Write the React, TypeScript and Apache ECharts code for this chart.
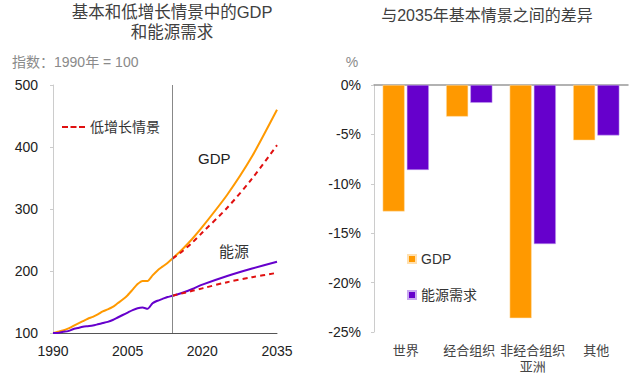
import React, { useEffect, useRef } from "react";
import * as echarts from "echarts";

const FONT = 'Arial, "Liberation Sans", "Noto Sans CJK SC", sans-serif';

// Left chart: index, 1990 = 100
const gdpYears = [1990, 1991, 1992, 1993, 1994, 1995, 1996, 1997, 1998, 1999, 2000, 2001, 2002, 2003, 2004, 2005, 2006, 2007, 2008, 2009, 2010, 2011, 2012, 2013, 2014, 2016, 2018, 2020, 2025, 2030, 2035];
const gdpBase = [100, 102, 104, 107, 111, 115, 119, 123, 126, 130, 135, 138, 142, 148, 154, 161, 170, 179, 184, 184, 193, 201, 207, 213, 220, 235, 252, 271, 323, 385, 460];
const energyBase = [100, 100, 102, 103, 106, 108, 110, 111, 112, 114, 116, 118, 121, 125, 129, 133, 137, 140, 141, 139, 148, 152, 155, 158, 160, 165, 171, 178, 192, 204, 215];
const lowYears = [2014, 2016, 2018, 2020, 2025, 2030, 2035];
const gdpLow = [220, 232, 246, 262, 302, 349, 403];
const energyLow = [160, 164, 168, 172, 182, 190, 197];
const historyEnd = 2014;

// Right chart: % difference vs base case in 2035
const regions = ["世界", "经合组织", "非经合组织\n亚洲", "其他"];
const gdpDiff = [-12.8, -3.2, -23.6, -5.6];
const energyDiff = [-8.6, -1.8, -16.1, -5.1];

const ORANGE = "#FF9900";
const PURPLE = "#6600CC";
const RED = "#E01010";

const pairs = (xs: number[], ys: number[]) => xs.map((x, i) => [x, ys[i]]);

export default function App() {
  const ref = useRef<HTMLDivElement>(null);
  useEffect(() => {
    if (!ref.current) return;
    const chart = echarts.init(ref.current, null, { renderer: "svg" });
    const option: any = {
      animation: false,
      backgroundColor: "#fff",
      textStyle: { fontFamily: FONT },
      grid: [
        { left: 53, top: 85, width: 224, height: 248 },
        { left: 374, top: 85, width: 254, height: 248 },
      ],
      legend: [
        {
          data: [{ name: "低增长情景", icon: "path://M0,0h6v2h-6zM8.5,0h6v2h-6zM17,0h6v2h-6z" }],
          left: 57,
          top: 115,
          itemWidth: 23,
          itemHeight: 2.5,
          itemGap: 6,
          textStyle: { fontSize: 14, color: "#333", fontFamily: FONT },
        },
        {
          data: ["GDP", "能源需求"],
          orient: "vertical",
          left: 402,
          top: 247,
          itemWidth: 8,
          itemHeight: 8,
          itemGap: 22,
          icon: "rect",
          textStyle: { fontSize: 14, color: "#333", fontFamily: FONT },
        },
      ],
      xAxis: [
        {
          gridIndex: 0,
          type: "value",
          min: 1990,
          max: 2035,
          interval: 15,
          axisLine: { show: true, lineStyle: { color: "#555", width: 1 } },
          axisTick: { show: false },
          splitLine: { show: false },
          axisLabel: {
            fontSize: 14,
            color: "#222",
            margin: 11,
            fontFamily: FONT,
            formatter: (v: number) => String(v),
          },
        },
        {
          gridIndex: 1,
          type: "category",
          data: regions,
          position: "bottom",
          axisLine: { show: false, onZero: false },
          axisTick: { show: false },
          axisLabel: { fontSize: 13, color: "#444", margin: 10, interval: 0, lineHeight: 16, fontFamily: FONT },
        },
        {
          gridIndex: 1,
          type: "category",
          data: regions,
          position: "top",
          axisLine: { show: true, onZero: false, lineStyle: { color: "#999", width: 1.5 } },
          axisTick: { show: false },
          axisLabel: { show: false },
        },
      ],
      yAxis: [
        {
          gridIndex: 0,
          type: "value",
          min: 100,
          max: 500,
          interval: 100,
          axisLine: { show: true, lineStyle: { color: "#ccc" } },
          axisTick: { show: true, length: 3, lineStyle: { color: "#ccc" } },
          splitLine: { show: false },
          axisLabel: { fontSize: 14, color: "#222", margin: 15, fontFamily: FONT },
        },
        {
          gridIndex: 1,
          type: "value",
          min: -25,
          max: 0,
          interval: 5,
          axisLine: { show: true, lineStyle: { color: "#ccc" } },
          axisTick: { show: true, length: 3, lineStyle: { color: "#ccc" } },
          splitLine: { show: false },
          axisLabel: { fontSize: 14, color: "#222", margin: 13, formatter: "{value}%", fontFamily: FONT },
        },
      ],
      series: [
        {
          name: "GDP基本情景",
          type: "line",
          xAxisIndex: 0,
          yAxisIndex: 0,
          data: pairs(gdpYears, gdpBase),
          symbol: "none",
          smooth: 0.2,
          lineStyle: { color: ORANGE, width: 2 },
          itemStyle: { color: ORANGE },
          z: 3,
          markLine: {
            silent: true,
            symbol: "none",
            label: { show: false },
            lineStyle: { color: "#888", width: 1, type: "solid" },
            data: [{ xAxis: historyEnd }],
          },
        },
        {
          name: "能源基本情景",
          type: "line",
          xAxisIndex: 0,
          yAxisIndex: 0,
          data: pairs(gdpYears, energyBase),
          symbol: "none",
          smooth: 0.2,
          lineStyle: { color: PURPLE, width: 2 },
          itemStyle: { color: PURPLE },
          z: 3,
        },
        {
          name: "低增长情景",
          type: "line",
          xAxisIndex: 0,
          yAxisIndex: 0,
          data: pairs(lowYears, gdpLow),
          symbol: "none",
          smooth: 0.3,
          lineStyle: { color: RED, width: 2, type: [5, 4] },
          itemStyle: { color: RED },
          z: 4,
        },
        {
          name: "低增长情景",
          type: "line",
          xAxisIndex: 0,
          yAxisIndex: 0,
          data: pairs(lowYears, energyLow),
          symbol: "none",
          smooth: 0.3,
          lineStyle: { color: RED, width: 2, type: [5, 4] },
          itemStyle: { color: RED },
          z: 4,
        },
        {
          name: "GDP",
          type: "bar",
          xAxisIndex: 1,
          yAxisIndex: 1,
          data: gdpDiff,
          barWidth: 22,
          barGap: "10%",
          itemStyle: { color: ORANGE, borderColor: "#FFE0B0", borderWidth: 0.5 },
        },
        {
          name: "能源需求",
          type: "bar",
          xAxisIndex: 1,
          yAxisIndex: 1,
          data: energyDiff,
          barWidth: 22,
          barGap: "10%",
          itemStyle: { color: PURPLE, borderColor: "#C8A8F0", borderWidth: 0.5 },
        },
      ],
      graphic: [
        {
          type: "text",
          x: 172,
          y: 2,
          style: {
            text: "基本和低增长情景中的GDP\n和能源需求",
            fill: "#404040",
            fontSize: 16.5,
            fontFamily: FONT,
            lineHeight: 20,
            textAlign: "center",
            textVerticalAlign: "top",
          },
        },
        {
          type: "text",
          x: 12,
          y: 62,
          style: {
            text: "指数：1990年 = 100",
            fill: "#8a8a8a",
            fontSize: 14,
            fontFamily: FONT,
            textAlign: "left",
            textVerticalAlign: "middle",
          },
        },
        {
          type: "text",
          x: 487,
          y: 15,
          style: {
            text: "与2035年基本情景之间的差异",
            fill: "#404040",
            fontSize: 16,
            fontFamily: FONT,
            textAlign: "center",
            textVerticalAlign: "middle",
          },
        },
        {
          type: "text",
          x: 352,
          y: 62,
          style: {
            text: "%",
            fill: "#8a8a8a",
            fontSize: 14,
            fontFamily: FONT,
            textAlign: "center",
            textVerticalAlign: "middle",
          },
        },
        {
          type: "text",
          x: 198,
          y: 158,
          style: {
            text: "GDP",
            fill: "#222",
            fontSize: 15,
            fontFamily: FONT,
            textAlign: "left",
            textVerticalAlign: "middle",
          },
        },
        {
          type: "text",
          x: 219,
          y: 251,
          style: {
            text: "能源",
            fill: "#333",
            fontSize: 15,
            fontFamily: FONT,
            textAlign: "left",
            textVerticalAlign: "middle",
          },
        },
      ],
    };
    chart.setOption(option);
    return () => chart.dispose();
  }, []);
  return (
    <div
      ref={ref}
      style={{ position: "fixed", left: 0, top: 0, width: 640, height: 374, background: "#fff" }}
    />
  );
}
